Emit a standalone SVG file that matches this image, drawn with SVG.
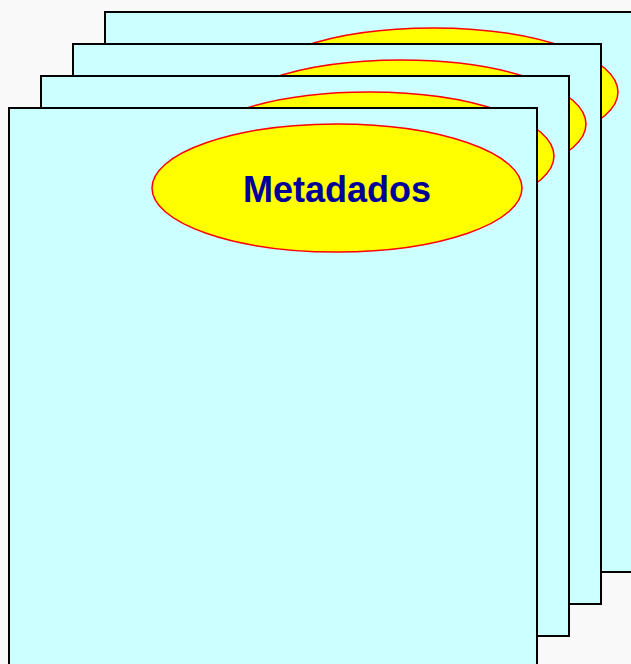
<svg xmlns="http://www.w3.org/2000/svg" width="631" height="664" viewBox="0 0 631 664">
<style>
.page{fill:#ccffff;stroke:#000;stroke-width:2}
.oval{fill:#ffff00;stroke:#ff0000;stroke-width:1.5}
.lbl{font-family:"Liberation Sans",Arial,sans-serif;font-weight:bold;font-size:36px;fill:#000099;text-anchor:middle}
</style>
<rect width="631" height="664" fill="#f9f9f9"/>
<g id="page1">
<rect class="page" x="105" y="12" width="529" height="560"/>
<ellipse class="oval" cx="433" cy="92" rx="185" ry="64"/>
</g>
<g id="page2">
<rect class="page" x="73" y="44" width="528" height="560"/>
<ellipse class="oval" cx="401" cy="124" rx="185" ry="64"/>
</g>
<g id="page3">
<rect class="page" x="41" y="76" width="528" height="560"/>
<ellipse class="oval" cx="369" cy="156" rx="185" ry="64"/>
</g>
<g id="page4">
<rect class="page" x="9" y="108" width="528" height="570"/>
<ellipse class="oval" cx="337" cy="188" rx="185" ry="64"/>
<text class="lbl" x="337" y="202">Metadados</text>
</g>
<g id="connectors"/>
</svg>
